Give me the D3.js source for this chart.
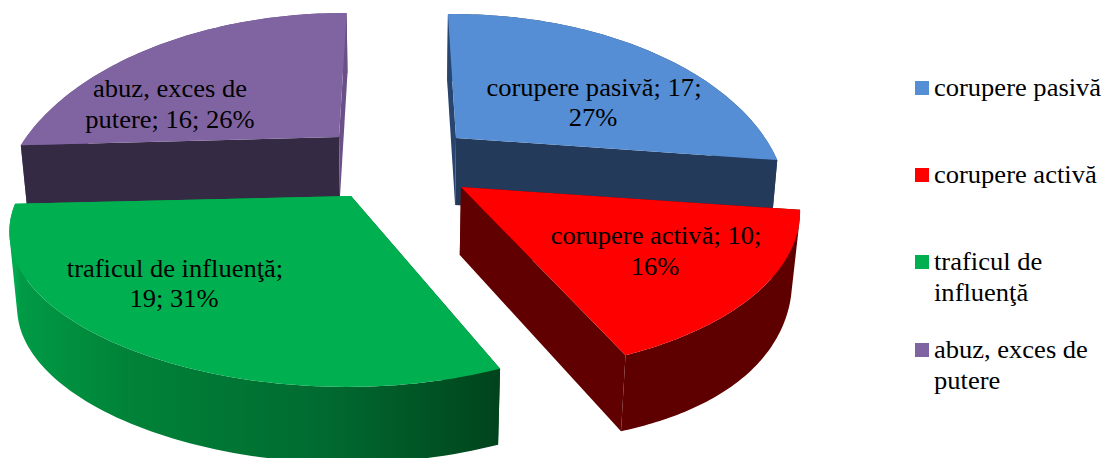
<!DOCTYPE html>
<html><head><meta charset="utf-8">
<script src="https://cdn.jsdelivr.net/npm/d3@7"></script>
<style>html,body{margin:0;padding:0;background:#fff;overflow:hidden}svg{display:block}text{font-family:"Liberation Serif",serif;fill:#000}</style>
</head><body><svg id="c" width="1105" height="458"></svg>
<script>
const categories = ["corupere pasivă","corupere activă","traficul de influenţă","abuz, exces de putere"];
const values = [17,10,19,16];
const percents = [27,16,31,26];
const labelLines = [
  ["corupere pasivă; 17;","27%"],
  ["corupere activă; 10;","16%"],
  ["traficul de influenţă;","19; 31%"],
  ["abuz, exces de","putere; 16; 26%"]];
const legendLines = [["corupere pasivă"],["corupere activă"],["traficul de","influenţă"],["abuz, exces de","putere"]];
const topColors = ["#558ed5","#ff0000","#00b050","#8064a2"];

// projected geometry for each exploded slice
const geom = [
 {ax:456,ay:138,a:309,b:168,k:.356,sk:.017,ty:0,pinch:0,d:67,dg:0,bulge:0,sx:.984,wallFirst:true,startFace:"#29446e",endFace:"#243a5a",wall:[[0,360],["#29446e","#29446e"]],lab:[[594,95.5],[593,126]]},
 {ax:461,ay:187,a:336,b:166,k:.11,sk:.05,ty:.005,pinch:0,d:68,dg:8,bulge:6,sx:.98,wallFirst:false,startFace:"#600000",endFace:"#600000",wall:[[0,360],["#5f0000","#5f0000"]],lab:[[656,244],[655,275]]},
 {ax:351,ay:196,a:330,b:152,k:.21,sk:-.126,ty:.012,pinch:.022,d:76,dg:0,bulge:0,sx:.98,wallFirst:false,startFace:"#00431c",endFace:"#00a84e",wall:[[155,180,210,240,266],["#00431c","#006a30","#008238","#009a45","#00aa4e"]],lab:[[175,277],[174,307]]},
 {ax:339,ay:137,a:309,b:168,k:.356,sk:-.11,ty:.0157,pinch:0,d:60,dg:0,bulge:0,sx:.984,wallFirst:true,startFace:"#342a43",endFace:"#6a5087",wall:[[0,360],["#6a5087","#6a5087"]],lab:[[170,97],[170,128]]}
];
const vanishX = 400, deg = Math.PI/180, fontSize = 25, stretchX = 1.061;
const svg = d3.select("#c");
const defs = svg.append("defs");
const arcs = d3.pie().sort(null).value(v=>v).startAngle(-1.5*deg).endAngle(358.5*deg)(values);

function topPt(g,t,u){
  const c=Math.cos(t),s=Math.sin(t),w=1+g.k*c;
  const dy=-g.b*c/w,dx=g.a*s/w;
  const q=1-g.pinch*Math.pow(Math.sin(Math.PI*(u||0)),2);
  return [g.ax+(dx+g.sk*dy)*q,g.ay+(dy+g.ty*dx)*q];
}
function low(g,p,u){return [vanishX+(p[0]-vanishX)*g.sx,p[1]+g.d+g.dg*(p[1]-g.ay)/170+g.bulge*Math.sin(Math.PI*(u||0))];}
const line=d3.line();

const order=[0,3,1,2];
order.forEach(i=>{
  const g=geom[i],arc=arcs[i],apex=[g.ax,g.ay],G=svg.append("g");
  const n=80,ts=d3.range(n+1).map(j=>arc.startAngle+(arc.endAngle-arc.startAngle)*j/n);
  const rim=ts.map((t,j)=>topPt(g,t,j/n));
  const lows=rim.map((p,j)=>low(g,p,j/n));
  const poly=(pts,col)=>G.append("path").attr("d",line(pts)+"Z").attr("fill",col);
  const faces=()=>{
    poly([apex,rim[0],lows[0],low(g,apex)],g.startFace);
    poly([apex,rim[n],lows[n],low(g,apex)],g.endFace);
  };
  const wall=()=>{
    const col=d3.scaleLinear().domain(g.wall[0]).range(g.wall[1]).clamp(true);
    const xs=g.wall[0].map(a=>topPt(g,a*deg,0)[0]);
    const grad=defs.append("linearGradient").attr("id","w"+i).attr("gradientUnits","userSpaceOnUse")
      .attr("x1",xs[0]).attr("x2",xs[xs.length-1]).attr("y1",0).attr("y2",0);
    g.wall[0].forEach((a,j)=>grad.append("stop")
      .attr("offset",(xs[j]-xs[0])/(xs[xs.length-1]-xs[0])).attr("stop-color",col(a)));
    const dPath=d3.range(n).map(j=>{
      const q=[rim[j],rim[j+1],lows[j+1],lows[j]];
      return line(d3.polygonArea(q)<0?q.slice().reverse():q)+"Z";
    }).join("");
    G.append("path").attr("d",dPath).attr("fill",`url(#w${i})`);
  };
  if(g.wallFirst){wall();faces();}else{faces();wall();}
  G.append("path").attr("d",line([apex,...rim])+"Z").attr("fill",topColors[i]);
});

const put=(x,y,t,anchor)=>svg.append("text").attr("transform",`translate(${x},${y}) scale(${stretchX},1)`)
  .attr("text-anchor",anchor).attr("font-size",fontSize).text(t);

geom.forEach((g,i)=>labelLines[i].forEach((t,j)=>put(g.lab[j][0],g.lab[j][1],t,"middle")));

const legendY=[81,168,255,343];
const lineGap=30.7;
categories.forEach((c,i)=>{
  svg.append("rect").attr("x",915).attr("y",legendY[i]).attr("width",14).attr("height",14).attr("fill",topColors[i]);
  legendLines[i].forEach((t,j)=>put(934,legendY[i]+15+j*lineGap,t,"start"));
});
</script></body></html>
